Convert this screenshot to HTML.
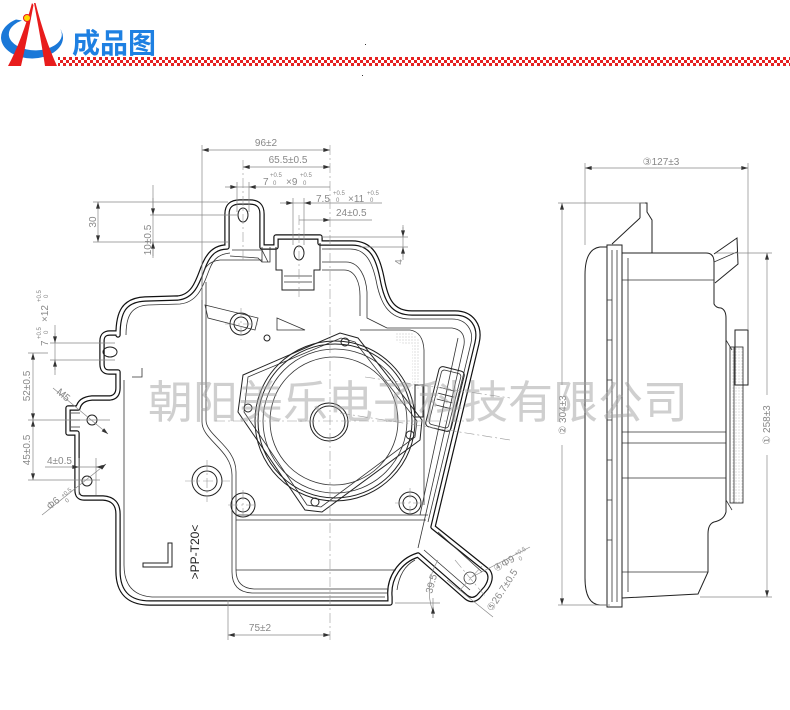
<!DOCTYPE html>
<html><head><meta charset="utf-8"><style>
html,body{margin:0;padding:0;background:#fff;}
svg{display:block;}
.o{fill:none;stroke:#222;stroke-width:1;}
.t{fill:none;stroke:#333;stroke-width:0.8;}
.d{fill:none;stroke:#888;stroke-width:0.7;}
.c{fill:none;stroke:#999;stroke-width:0.6;stroke-dasharray:10 3 2 3;}
.tx{font-family:"Liberation Sans",sans-serif;font-size:10px;fill:#888;}
.sm{font-family:"Liberation Sans",sans-serif;font-size:6px;fill:#888;}
</style></head><body>
<svg width="790" height="710" viewBox="0 0 790 710" xmlns="http://www.w3.org/2000/svg">
<defs>
<marker id="a" viewBox="0 0 10 6" refX="10" refY="3" markerWidth="7" markerHeight="4" markerUnits="userSpaceOnUse" orient="auto-start-reverse"><path d="M0 0 L10 3 L0 6z" fill="#333"/></marker>
<pattern id="chk" width="6" height="6" patternUnits="userSpaceOnUse"><rect width="6" height="6" fill="#fff"/><rect width="3" height="3" fill="#e52222"/><rect x="3" y="3" width="3" height="3" fill="#e52222"/></pattern>
<pattern id="dots" width="3" height="3" patternUnits="userSpaceOnUse"><circle cx="1" cy="1" r="0.5" fill="#aaa"/></pattern>
</defs>
<rect width="790" height="710" fill="#fff"/>

<!-- HEADER -->
<path d="M16 19.5 A31 21 0 1 0 61.5 31 L60.2 28.8 A26.5 16 0 1 1 22 20.5 Z" fill="#1a78d8"/>
<path d="M32 3 Q22 40 8 66 L21 66 Q27 40 33.5 5 Z" fill="#e81c1c"/>
<path d="M34 3 Q41 40 45 66 L57 66 Q45 40 35.5 3 Z" fill="#e81c1c"/>
<circle cx="27" cy="18" r="3.5" fill="#ffd800" stroke="#e81c1c" stroke-width="1"/>
<text x="72" y="53" font-family="'Noto Sans CJK SC',sans-serif" font-size="28" font-weight="bold" fill="#1e80e2">成品图</text>
<rect x="58" y="57" width="732" height="9" fill="url(#chk)"/>
<rect x="365" y="44" width="1" height="1" fill="#333"/>
<rect x="362" y="75" width="1" height="1" fill="#333"/>

<!-- FRONT VIEW OUTER DOUBLE OUTLINE -->
<path d="M118 335 C118 312 124 300 145 299 L178 298 C196 296 199 276 205 263 C210 252 217 247 227 247 L227 214 Q227 202 240 202 L250 202 Q262 202 262 214 L262 247 L276 247 L276 237 L320 237 L320 243 L352 243 C372 243 378 258 382 278 C386 300 392 313 412 313 L455 313 C472 313 481 326 477 343 L433 527 L488 571 Q493 578 486 588 L478 597 Q472 602 466 597 L418 555 A40 40 0 0 0 390 597 L390 603 L150 603 Q118 603 118 571 L118 514 Q118 499 103 498 L84 498 Q77 498 77 490 L77 433 L68 433 L68 408 L78 408 Q80 399 92 398 L110 398 Q118 397 118 388 L118 372 L109 372 Q102 372 102 364 L102 341 Q102 333 110 333 L118 333 Z" fill="none" stroke="#111" stroke-width="5.4" stroke-linejoin="round"/>
<path d="M118 335 C118 312 124 300 145 299 L178 298 C196 296 199 276 205 263 C210 252 217 247 227 247 L227 214 Q227 202 240 202 L250 202 Q262 202 262 214 L262 247 L276 247 L276 237 L320 237 L320 243 L352 243 C372 243 378 258 382 278 C386 300 392 313 412 313 L455 313 C472 313 481 326 477 343 L433 527 L488 571 Q493 578 486 588 L478 597 Q472 602 466 597 L418 555 A40 40 0 0 0 390 597 L390 603 L150 603 Q118 603 118 571 L118 514 Q118 499 103 498 L84 498 Q77 498 77 490 L77 433 L68 433 L68 408 L78 408 Q80 399 92 398 L110 398 Q118 397 118 388 L118 372 L109 372 Q102 372 102 364 L102 341 Q102 333 110 333 L118 333 Z" fill="none" stroke="#fff" stroke-width="3" stroke-linejoin="round"/>

<!-- inner third lines -->
<path class="t" d="M124 380 L124 565 Q124 595 152 597 L385 597"/>
<path class="t" d="M126 335 C126 315 132 306 148 305 L180 304 C200 302 204 282 210 268 C214 258 220 254 230 253"/>
<path class="t" d="M322 249 L350 249 C366 249 372 262 376 280 C380 302 388 319 410 319 L452 319 C466 319 474 330 471 343 L428 522"/>
<!-- inner chamber walls -->
<path class="t" d="M202 282 Q202 262 220 260 L262 260 M202 282 L202 422 C202 440 232 450 232 475 L232 572 Q232 592 252 593 L388 593"/>
<path class="t" d="M206 282 L206 420 C206 436 236 446 236 472 L236 570 Q236 588 254 589 L388 589"/>
<path class="t" d="M322 262 L346 262 C360 262 366 278 367 292 L367 318 L387 328 L452 328 Q466 330 464 345 L424 522 L418 548"/>
<path class="t" d="M322 270 L344 270 C356 270 360 284 360 296 L360 316"/>
<path class="t" d="M458 338 L420 515"/>
<path class="t" d="M236 515 L428 515 M236 520 L426 520 M236 570 L396 570"/>
<!-- right bracket top -->
<path class="o" d="M276 247 L276 270 L282 270 L282 290 L314 290 L314 270 L320 270 L320 243"/>
<path class="t" d="M284 276 L312 276 M284 282 L312 282"/>
<path class="t" d="M262 247 L262 262 L270 262 L270 247"/>
<path class="t" d="M232 250 L262 250 L268 262 M230 256 L258 258 L262 262"/>
<!-- ribs -->
<path class="t" d="M205 305 L258 318 L255 330 L208 318 Z"/>
<path class="t" d="M277 318 L305 330 L277 330 Z"/>
<!-- mounting holes -->
<ellipse class="o" cx="243" cy="215" rx="5" ry="7"/>
<ellipse class="o" cx="299" cy="253" rx="5" ry="7"/>
<ellipse class="o" cx="110" cy="352" rx="7" ry="5"/>
<circle class="o" cx="92" cy="420" r="5"/>
<circle class="o" cx="87" cy="481" r="5"/>
<path class="t" d="M71 413 L80 413 M71 420 L80 420 M71 427 L80 427"/>
<!-- bosses -->
<circle class="o" cx="241" cy="324" r="11"/><circle class="o" cx="241" cy="324" r="7"/>
<circle class="o" cx="207" cy="481" r="15"/><circle class="o" cx="207" cy="481" r="10"/>
<circle class="o" cx="243" cy="505" r="12"/><circle class="o" cx="243" cy="505" r="7"/>
<circle class="o" cx="410" cy="503" r="11"/><circle class="o" cx="410" cy="503" r="7"/>
<circle class="o" cx="267" cy="338" r="3"/>
<!-- speaker -->
<polygon class="o" points="243,375 340,333 358,338 422,420 420,440 322,512 305,510 238,412"/>
<polygon class="t" points="248,377 341,338 355,342 417,421 415,437 321,507 307,505 244,412"/>
<circle class="o" cx="335" cy="421" r="80"/>
<circle class="o" cx="335" cy="421" r="77"/>
<circle class="t" cx="335" cy="421" r="72"/>
<circle class="t" cx="334" cy="421" r="64"/>
<circle class="o" cx="329" cy="422" r="19"/>
<circle class="o" cx="329" cy="422" r="16"/>
<circle class="o" cx="345" cy="342" r="4"/><circle class="o" cx="248" cy="408" r="4"/>
<circle class="o" cx="315" cy="502" r="4"/><circle class="o" cx="410" cy="435" r="4"/>
<path class="t" d="M360 330 L410 330 Q423 332 424 350 L424 505"/>
<path d="M395 333 L412 333 Q420 336 420 350 L420 390 L412 390 L412 345 L395 342 Z" fill="url(#dots)"/>
<rect class="o" x="415" y="385" width="8" height="32"/>
<!-- connector -->
<g transform="translate(445,399) rotate(14)">
<rect class="o" x="-13" y="-31" width="26" height="62" rx="4"/>
<rect class="t" x="-10" y="-28" width="20" height="56" rx="3"/>
<path class="t" d="M-8 -10 L8 -10 M-8 -4 L8 -4 M-8 2 L8 2 M-8 8 L8 8"/>
</g>
<!-- tube -->
<path class="t" d="M438 532 L482 572 M424 550 L470 590"/>
<circle class="t" cx="470" cy="578" r="6"/>
<path class="t" d="M415 560 Q400 568 397 590"/>
<!-- L mark -->
<path class="o" d="M168 543 L172 543 L172 567 L143 567 L143 563 L168 563 Z"/>
<path class="t" d="M132 377 L142 377 L142 368"/>
<text transform="translate(199,552) rotate(-90)" text-anchor="middle" font-family="'Liberation Sans',sans-serif" font-size="12" fill="#222">&gt;PP-T20&lt;</text>

<!-- CENTER LINES -->
<path class="c" d="M330 145 L330 640"/>
<path class="c" d="M243 160 L243 262"/>
<path class="c" d="M299 215 L299 300"/>
<path class="c" d="M215 421 L470 421"/>
<path class="c" d="M225 324 L258 324 M241 308 L241 340"/>
<path class="c" d="M185 481 L230 481 M207 460 L207 502"/>
<path class="c" d="M228 505 L258 505 M243 490 L243 520"/>
<path class="c" d="M395 503 L425 503 M410 488 L410 518"/>
<path class="c" d="M340 413 L510 440"/>
<path class="c" d="M365 377 L510 398"/>
<path class="c" d="M455 560 L485 596 M460 590 L482 566"/>

<!-- DIMENSIONS front -->
<path class="d" d="M202 145 L202 300 M228 600 L228 640"/>
<line class="d" x1="202" y1="150" x2="330" y2="150" marker-start="url(#a)" marker-end="url(#a)"/>
<text class="tx" x="266" y="146" text-anchor="middle">96±2</text>
<line class="d" x1="243" y1="167" x2="330" y2="167" marker-start="url(#a)" marker-end="url(#a)"/>
<text class="tx" x="288" y="163" text-anchor="middle">65.5±0.5</text>
<path class="d" d="M225 187 L330 187 M237 182 L237 212 M249 182 L249 212"/>
<line class="d" x1="229" y1="187" x2="237" y2="187" marker-end="url(#a)"/>
<line class="d" x1="257" y1="187" x2="249" y2="187" marker-end="url(#a)"/>
<text class="tx" x="263" y="185">7</text><text class="sm" x="270" y="177">+0.5</text><text class="sm" x="273" y="185">0</text>
<text class="tx" x="286" y="185">×9</text><text class="sm" x="300" y="177">+0.5</text><text class="sm" x="303" y="185">0</text>
<path class="d" d="M280 203 L382 203 M293 198 L293 245 M304 198 L304 245"/>
<line class="d" x1="285" y1="203" x2="293" y2="203" marker-end="url(#a)"/>
<line class="d" x1="312" y1="203" x2="304" y2="203" marker-end="url(#a)"/>
<text class="tx" x="316" y="202">7.5</text><text class="sm" x="333" y="195">+0.5</text><text class="sm" x="336" y="202">0</text>
<text class="tx" x="348" y="202">×11</text><text class="sm" x="367" y="195">+0.5</text><text class="sm" x="370" y="202">0</text>
<path class="d" d="M330 220 L372 220"/>
<line class="d" x1="299" y1="220" x2="330" y2="220" marker-end="url(#a)"/>
<text class="tx" x="336" y="216">24±0.5</text>
<path class="d" d="M93 202 L228 202 M93 242 L228 242 M150 215 L238 215"/>
<line class="d" x1="98" y1="202" x2="98" y2="242" marker-start="url(#a)" marker-end="url(#a)"/>
<text class="tx" transform="translate(96,222) rotate(-90)" text-anchor="middle">30</text>
<path class="d" d="M153 185 L153 258"/>
<line class="d" x1="153" y1="198" x2="153" y2="215" marker-end="url(#a)"/>
<line class="d" x1="153" y1="256" x2="153" y2="242" marker-end="url(#a)"/>
<text class="tx" transform="translate(151,240) rotate(-90)" text-anchor="middle">10±0.5</text>
<path class="d" d="M322 237 L408 237 M360 247 L408 247 M403 225 L403 260"/>
<line class="d" x1="403" y1="227" x2="403" y2="237" marker-end="url(#a)"/>
<line class="d" x1="403" y1="257" x2="403" y2="247" marker-end="url(#a)"/>
<text class="tx" transform="translate(402,262) rotate(-90)" text-anchor="middle">4</text>
<!-- left -->
<path class="d" d="M50 343 L115 343 M50 360 L115 360 M55 325 L55 375"/>
<line class="d" x1="55" y1="333" x2="55" y2="343" marker-end="url(#a)"/>
<line class="d" x1="55" y1="370" x2="55" y2="360" marker-end="url(#a)"/>
<text class="tx" transform="translate(48,346) rotate(-90)">7</text>
<text class="sm" transform="translate(41,339) rotate(-90)">+0.5</text>
<text class="sm" transform="translate(48,334) rotate(-90)">0</text>
<text class="tx" transform="translate(48,322) rotate(-90)">×12</text>
<text class="sm" transform="translate(41,302) rotate(-90)">+0.5</text>
<text class="sm" transform="translate(48,298) rotate(-90)">0</text>
<path class="d" d="M28 353 L48 353 M28 420 L110 420 M28 480 L100 480"/>
<line class="d" x1="33" y1="353" x2="33" y2="420" marker-start="url(#a)" marker-end="url(#a)"/>
<line class="d" x1="33" y1="420" x2="33" y2="480" marker-start="url(#a)" marker-end="url(#a)"/>
<text class="tx" transform="translate(30,386) rotate(-90)" text-anchor="middle">52±0.5</text>
<text class="tx" transform="translate(30,450) rotate(-90)" text-anchor="middle">45±0.5</text>
<line class="d" x1="53" y1="388" x2="108" y2="434" marker-end="url(#a)"/>
<text class="tx" transform="translate(56,393) rotate(40)">M5</text>
<path class="d" d="M45 467 L104 467 M79 458 L79 495 M96 458 L96 495"/>
<line class="d" x1="71" y1="467" x2="79" y2="467" marker-end="url(#a)"/>
<line class="d" x1="104" y1="467" x2="96" y2="467" marker-end="url(#a)"/>
<text class="tx" x="47" y="464">4±0.5</text>
<line class="d" x1="42" y1="515" x2="106" y2="464" marker-end="url(#a)"/>
<text class="tx" transform="translate(50,510) rotate(-40)">Φ6</text>
<text class="sm" transform="translate(63,498) rotate(-40)">+0.5</text>
<text class="sm" transform="translate(67,503) rotate(-40)">0</text>
<!-- bottom -->
<line class="d" x1="228" y1="635" x2="330" y2="635" marker-start="url(#a)" marker-end="url(#a)"/>
<text class="tx" x="260" y="631" text-anchor="middle">75±2</text>
<path class="d" d="M438 560 A60 60 0 0 0 433 612 M433 598 L433 618 M395 603 L440 603"/>
<line class="d" x1="433" y1="618" x2="433" y2="607" marker-end="url(#a)"/>
<text class="tx" transform="translate(432,594) rotate(-75)">39.5</text>
<path class="d" d="M470 578 L530 547 M447 580 L493 617"/>
<text class="tx" transform="translate(496,572) rotate(-30)">④Φ9</text>
<text class="sm" transform="translate(516,556) rotate(-30)">+0.5</text>
<text class="sm" transform="translate(520,561) rotate(-30)">0</text>
<text class="tx" transform="translate(492,612) rotate(-57)">⑤26.7±0.5</text>

<!-- SIDE VIEW -->
<path class="o" d="M607 247 L600 247 Q585 249 585 275 L585 578 Q585 604 600 605 L607 605"/>
<rect class="o" x="607" y="245" width="15" height="362"/>
<path class="t" d="M612 250 L612 602 M617 250 L617 602"/>
<path class="t" d="M607 300 L612 300 M607 340 L612 340 M607 380 L612 380 M607 420 L612 420 M607 460 L612 460 M607 500 L612 500 M607 540 L612 540"/>
<path class="o" d="M622 253 L706 253 Q714 253 714 262 L714 304 Q716 308 721 308 Q726 310 726 318 L726 512 Q724 520 714 522 Q708 524 708 534 L708 572 L698 594 L622 598"/>
<path class="t" d="M628 258 L628 592 M622 280 L714 280 M622 432 L726 432 M622 443 L726 443 M622 478 L726 478 M622 572 L708 572"/>
<path class="o" d="M640 218 L612 244 M640 218 L640 203 L647 203 L647 212 L652 220 L652 253"/>
<path class="o" d="M714 254 L737 238 L738 264 L715 283"/>
<path class="t" d="M714 262 L737 252"/>
<rect x="730" y="347" width="13" height="156" fill="url(#dots)" stroke="#222" stroke-width="0.8"/>
<rect class="o" x="735" y="330" width="13" height="55"/>
<path class="t" d="M726 340 L732 350 M726 500 L732 510 M734 347 L734 503"/>
<!-- side dims -->
<path class="d" d="M585 163 L585 245 M748 163 L748 330 M558 203 L645 203 M558 605 L610 605 M716 253 L772 253 M700 597 L772 597"/>
<line class="d" x1="585" y1="168" x2="748" y2="168" marker-start="url(#a)" marker-end="url(#a)"/>
<rect x="636" y="155" width="50" height="11" fill="#fff"/>
<text class="tx" x="661" y="165" text-anchor="middle">③127±3</text>
<line class="d" x1="562" y1="203" x2="562" y2="605" marker-start="url(#a)" marker-end="url(#a)"/>
<rect x="556" y="385" width="11" height="60" fill="#fff"/>
<text class="tx" transform="translate(566,415) rotate(-90)" text-anchor="middle">② 304±3</text>
<line class="d" x1="767" y1="253" x2="767" y2="597" marker-start="url(#a)" marker-end="url(#a)"/>
<rect x="761" y="395" width="11" height="60" fill="#fff"/>
<text class="tx" transform="translate(770,425) rotate(-90)" text-anchor="middle">① 258±3</text>

<!-- WATERMARK -->
<text x="148" y="418" textLength="540" lengthAdjust="spacing" font-family="'Noto Sans CJK SC','WenQuanYi Zen Hei',sans-serif" font-size="45" fill="#a0a0a0" fill-opacity="0.5">朝阳美乐电子科技有限公司</text>
</svg>
</body></html>
